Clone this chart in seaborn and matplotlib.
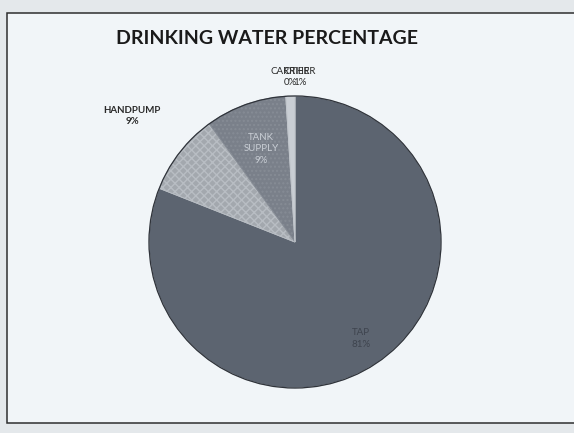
import numpy as np
import matplotlib
matplotlib.use("Agg")
import matplotlib.pyplot as plt
import seaborn as sns
from matplotlib.patches import Rectangle

# ---- data ----
categories = ["TAP", "HANDPUMP", "TANK SUPPLY", "CARRIER", "OTHER"]
percent_values = [81, 9, 9, 0, 1]
title_text = "DRINKING WATER PERCENTAGE"

sns.set_theme(style="white")
plt.rcParams["font.family"] = ["Lato", "DejaVu Sans"]

W, H = 574, 433
fig = plt.figure(figsize=(W / 100, H / 100), dpi=100)
fig.patch.set_facecolor("#e4e8eb")

# chart frame (page)
fig.patches.append(Rectangle((7 / W, (H - 423) / H), (W + 20) / W, (423 - 13) / H,
                             transform=fig.transFigure, facecolor="#f1f5f8",
                             edgecolor="#2e2e2e", linewidth=1.1, zorder=-5))

fig.text(267 / W, 1 - 38 / H, title_text, ha="center", va="center",
         fontsize=14, fontweight="bold", color="#1a1a1a")

cx, cy, r = 295, 242, 146
ax = fig.add_axes([(cx - r) / W, (H - cy - r) / H, 2 * r / W, 2 * r / H])

colors = ["#5c6470", "#a3a8ae", "#7a808a", "#9aa0a8", "#c9ced4"]
wedges, _ = ax.pie(percent_values, colors=colors, startangle=90, counterclock=False,
                   radius=1, wedgeprops=dict(edgecolor="#c0c5cb", linewidth=0.7))
ax.set_xlim(-1, 1)
ax.set_ylim(-1, 1)
ax.set_aspect("equal")
ax.axis("off")
for w in wedges:
    w.set_zorder(2)
# dark outer rim
ax.add_patch(plt.Circle((0, 0), 1, fill=False, edgecolor="#2f333a", linewidth=0.9,
                        zorder=3, clip_on=False))
wedges[1].set_hatch("xxxx")
wedges[1].set_edgecolor("#b8bdc3")
wedges[2].set_hatch("....")
wedges[2].set_edgecolor("#868c95")
for w in wedges:
    w.set_clip_on(False)

def mid(w):
    return np.deg2rad((w.theta1 + w.theta2) / 2)

lab_kw = dict(ha="center", va="center", fontsize=7, linespacing=1.35, zorder=5,
              clip_on=False)
# TAP (inside)
a = mid(wedges[0])
ax.text(0.8 * np.cos(a), 0.8 * np.sin(a), f"{categories[0]}\n{percent_values[0]}%",
        color="#3e444e", **lab_kw)
# HANDPUMP (outside)
a = mid(wedges[1])
ax.text(1.41 * np.cos(a), 1.41 * np.sin(a), f"{categories[1]}\n{percent_values[1]}%",
        color="#2a2a2a", fontweight="bold", **lab_kw)
# TANK SUPPLY (inside)
a = mid(wedges[2])
ax.text(0.68 * np.cos(a), 0.68 * np.sin(a), "TANK\nSUPPLY\n" + f"{percent_values[2]}%",
        color="#c9ced5", **lab_kw)
# CARRIER / OTHER (outside, overlapping as in the source)
ax.text(-0.03, 1.13, f"{categories[3]}\n{percent_values[3]}%", color="#2a2a2a", **lab_kw)
ax.text(0.03, 1.13, f"{categories[4]}\n{percent_values[4]}%", color="#2a2a2a", **lab_kw)

fig.savefig("out.png", dpi=100, facecolor=fig.get_facecolor())
